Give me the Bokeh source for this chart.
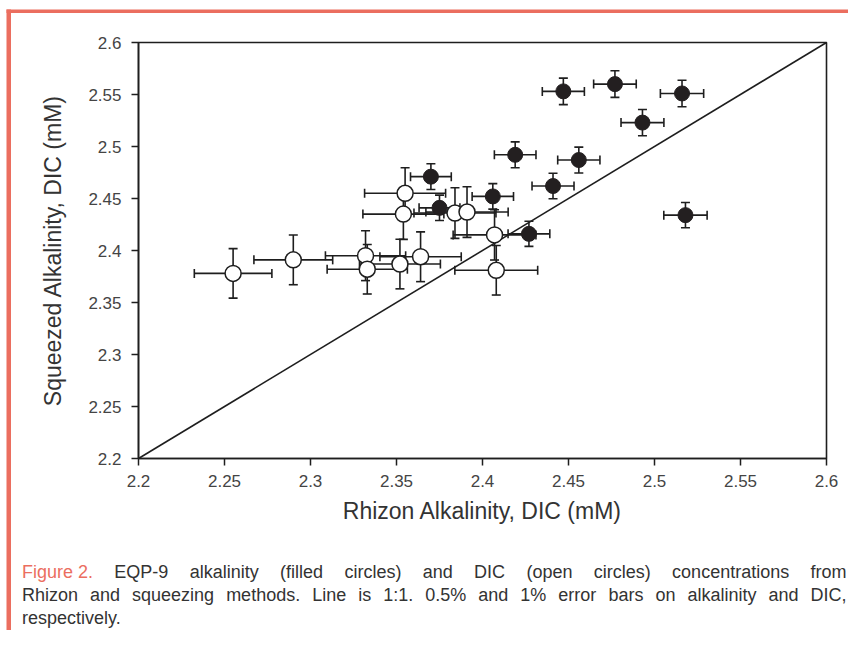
from bokeh.plotting import figure
from bokeh.models import (ColumnDataSource, Whisker, TeeHead, FixedTicker,
                          NumeralTickFormatter, LabelSet, BoxAnnotation, Range1d)
from bokeh.embed import file_html
from bokeh.resources import INLINE
from bokeh.core.properties import value

# ---------------- data ----------------
alk_rhizon   = [2.447, 2.477, 2.516, 2.493, 2.419, 2.456, 2.370, 2.441, 2.406, 2.375, 2.518, 2.427]
alk_squeezed = [2.553, 2.560, 2.551, 2.523, 2.492, 2.487, 2.471, 2.462, 2.452, 2.441, 2.434, 2.416]
dic_rhizon   = [2.255, 2.290, 2.355, 2.354, 2.384, 2.391, 2.332, 2.333, 2.352, 2.364, 2.407, 2.408]
dic_squeezed = [2.378, 2.391, 2.455, 2.435, 2.436, 2.437, 2.395, 2.382, 2.387, 2.394, 2.415, 2.381]
alk_err_frac = 0.005   # 0.5 % error bars on alkalinity
dic_err_frac = 0.01    # 1 % error bars on DIC
axis_lo, axis_hi = 2.2, 2.6
ticks = [2.2, 2.25, 2.3, 2.35, 2.4, 2.45, 2.5, 2.55, 2.6]
x_title = "Rhizon Alkalinity, DIC (mM)"
y_title = "Squeezed Alkalinity, DIC (mM)"

caption_words = [
    ["Figure 2.", "EQP-9", "alkalinity", "(filled", "circles)", "and", "DIC", "(open",
     "circles)", "concentrations", "from"],
    ["Rhizon", "and", "squeezing", "methods.", "Line", "is", "1:1.", "0.5%", "and", "1%",
     "error", "bars", "on", "alkalinity", "and", "DIC,"],
    ["respectively."],
]
caption_justified = [True, True, False]

# ---------------- layout / style ----------------
FONT = "Liberation Sans"
SALMON = "#EB6E5F"
TEXT = "#333333"
INK = "#1e1e1e"
FIG_W, FIG_H = 848, 630
# pixel box of the axes area inside the canvas
BOX_L, BOX_T, BOX_R, BOX_B = 138, 42, 826, 458
CAP_X0, CAP_X1 = 21.5, 846
CAP_SIZE = 18
caption_baseline = [577, 600, 623]

# Liberation Sans (Arial-compatible) advance widths, 1/1000 em, for justifying the caption
ADV = {" ": 278, ".": 278, ",": 278, ":": 278, "-": 333, "(": 333, ")": 333, "%": 889,
       "0": 556, "1": 556, "2": 556, "5": 556, "9": 556,
       "C": 722, "D": 722, "E": 667, "F": 611, "I": 278, "L": 556, "P": 667, "Q": 778,
       "R": 722,
       "a": 556, "b": 556, "c": 500, "d": 556, "e": 556, "f": 278, "g": 556, "h": 556,
       "i": 222, "k": 500, "l": 222, "m": 833, "n": 556, "o": 556, "p": 556, "q": 556,
       "r": 333, "s": 500, "t": 278, "u": 556, "v": 500, "y": 500, "z": 500}

def text_width(s):
    return sum(ADV.get(ch, 556) for ch in s) * CAP_SIZE / 1000.0

px_per_x = (BOX_R - BOX_L) / (axis_hi - axis_lo)
px_per_y = (BOX_B - BOX_T) / (axis_hi - axis_lo)
x_range = Range1d(axis_lo - BOX_L / px_per_x, axis_lo + (FIG_W - BOX_L) / px_per_x)
y_range = Range1d(axis_lo - (FIG_H - BOX_B) / px_per_y, axis_lo + BOX_B / px_per_y)

p = figure(width=FIG_W, height=FIG_H, x_range=x_range, y_range=y_range,
           min_border=0, min_border_left=0, min_border_right=0,
           min_border_top=0, min_border_bottom=0,
           output_backend="svg", toolbar_location=None,
           background_fill_color="white", border_fill_color="white")
p.xgrid.visible = False
p.ygrid.visible = False
p.outline_line_color = None

p.xaxis.axis_label = x_title
p.yaxis.axis_label = y_title
for ax in (p.xaxis[0], p.yaxis[0]):
    ax.fixed_location = axis_lo
    ax.bounds = (axis_lo, axis_hi)
    ax.ticker = FixedTicker(ticks=ticks)
    ax.formatter = NumeralTickFormatter(format="0.0[0]")
    ax.major_tick_in = 0
    ax.major_tick_out = 7
    ax.minor_tick_in = 0
    ax.minor_tick_out = 0
    ax.axis_line_color = INK
    ax.axis_line_width = 1.6
    ax.major_tick_line_color = INK
    ax.major_tick_line_width = 1.5
    ax.major_label_text_font = FONT
    ax.major_label_text_font_size = "17px"
    ax.major_label_text_color = "#444444"
    ax.axis_label_text_font = FONT
    ax.axis_label_text_font_size = "23px"
    ax.axis_label_text_font_style = "normal"
    ax.axis_label_text_color = TEXT
p.xaxis.major_label_standoff = 9
p.yaxis.major_label_standoff = 10
p.xaxis.axis_label_standoff = 8
p.yaxis.axis_label_standoff = 19

# plot box (top and right edges) and 1:1 line
p.quad(left=[axis_lo], right=[axis_hi], bottom=[axis_lo], top=[axis_hi],
       fill_color=None, line_color=INK, line_width=1.6)
p.line([axis_lo, axis_hi], [axis_lo, axis_hi], line_color=INK, line_width=1.6)

def add_series(xs, ys, frac, **marker_kw):
    src = ColumnDataSource(dict(
        x=xs, y=ys,
        xlo=[v * (1 - frac) for v in xs], xhi=[v * (1 + frac) for v in xs],
        ylo=[v * (1 - frac) for v in ys], yhi=[v * (1 + frac) for v in ys]))
    for base, lo, hi, dim in (("y", "xlo", "xhi", "width"), ("x", "ylo", "yhi", "height")):
        p.add_layout(Whisker(source=src, base=base, lower=lo, upper=hi, dimension=dim,
                             line_color=INK, line_width=1.6,
                             lower_head=TeeHead(size=9, line_color=INK, line_width=1.6),
                             upper_head=TeeHead(size=9, line_color=INK, line_width=1.6)))
    p.scatter("x", "y", source=src, **marker_kw)

add_series(alk_rhizon, alk_squeezed, alk_err_frac, size=15,
           fill_color="#231F20", line_color="#231F20", line_width=1)
add_series(dic_rhizon, dic_squeezed, dic_err_frac, size=16,
           fill_color="white", line_color=INK, line_width=1.5)

# salmon frame: top bar and left bar (screen units, origin at bottom-left of canvas)
p.add_layout(BoxAnnotation(left=6, right=FIG_W, top=FIG_H - 9, bottom=FIG_H - 12.5,
                           left_units="screen", right_units="screen",
                           top_units="screen", bottom_units="screen",
                           fill_color=SALMON, fill_alpha=1, line_color=None, level="overlay"))
p.add_layout(BoxAnnotation(left=6, right=10.5, top=FIG_H - 9, bottom=0,
                           left_units="screen", right_units="screen",
                           top_units="screen", bottom_units="screen",
                           fill_color=SALMON, fill_alpha=1, line_color=None, level="overlay"))

# caption, word by word, justified like the original
cw, cx, cy, cc = [], [], [], []
for li, words in enumerate(caption_words):
    widths = [text_width(w) for w in words]
    if caption_justified[li] and len(words) > 1:
        gap = (CAP_X1 - CAP_X0 - sum(widths)) / (len(words) - 1)
    else:
        gap = text_width(" ")
    x = CAP_X0
    for wi, w in enumerate(words):
        cw.append(w)
        cx.append(x)
        cy.append(FIG_H - caption_baseline[li])
        cc.append(SALMON if (li == 0 and wi == 0) else TEXT)
        x += widths[wi] + gap
cap_src = ColumnDataSource(dict(text=cw, x=cx, y=cy, color=cc))
p.add_layout(LabelSet(source=cap_src, x="x", y="y", text="text",
                      x_units="screen", y_units="screen",
                      text_color="color", text_font=value(FONT),
                      text_font_size=f"{CAP_SIZE}px",
                      text_align="left", text_baseline="alphabetic"))

open("out.html", "w").write(file_html(p, INLINE))
